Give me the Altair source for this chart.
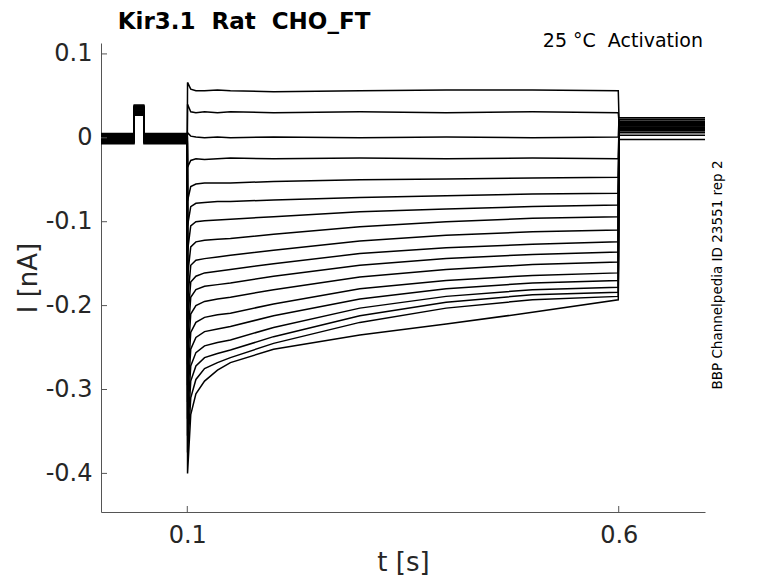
import altair as alt
import pandas as pd

# ---------------- data ----------------
TITLE = "Kir3.1 \u00a0Rat \u00a0CHO_FT"
CONDITION = "25 \u00b0C \u00a0Activation"
SOURCE = "BBP Channelpedia ID 23551 rep 2"

X_TICKS = [0.1, 0.6]
Y_TICKS = [0.1, 0.0, -0.1, -0.2, -0.3, -0.4]
X_DOMAIN = [0.0, 0.7]
Y_DOMAIN = [-0.446, 0.113]

# protocol times (s)
T_START = 0.0
PULSE_ON = 0.0383
PULSE_OFF = 0.0496
STEP_ON = 0.1
STEP_OFF = 0.6
T_END = 0.7
PULSE_AMP = 0.034

# sample times during the step
STEP_TIMES = [0.1003, 0.104, 0.11, 0.12, 0.135, 0.15, 0.2, 0.3, 0.4, 0.5, 0.5995]

# current (nA) of each sweep at STEP_TIMES
STEP_VALUES = [
    [0.066, 0.058, 0.056, 0.056, 0.057, 0.056, 0.055, 0.056, 0.057, 0.057, 0.056],
    [0.040, 0.031, 0.030, 0.031, 0.030, 0.031, 0.030, 0.031, 0.030, 0.031, 0.030],
    [0.006, 0.002, 0.001, 0.000, 0.001, 0.000, 0.001, 0.000, 0.001, 0.000, 0.001],
    [-0.035, -0.027, -0.025, -0.026, -0.025, -0.024, -0.025, -0.024, -0.025, -0.024, -0.025],
    [-0.075, -0.058, -0.055, -0.054, -0.054, -0.054, -0.052, -0.050, -0.049, -0.048, -0.047],
    [-0.105, -0.082, -0.078, -0.077, -0.076, -0.076, -0.074, -0.071, -0.069, -0.067, -0.066],
    [-0.135, -0.105, -0.100, -0.099, -0.098, -0.097, -0.094, -0.088, -0.085, -0.082, -0.080],
    [-0.165, -0.130, -0.124, -0.122, -0.121, -0.120, -0.115, -0.106, -0.100, -0.096, -0.094],
    [-0.195, -0.152, -0.146, -0.144, -0.142, -0.140, -0.134, -0.123, -0.116, -0.112, -0.110],
    [-0.220, -0.172, -0.165, -0.161, -0.159, -0.157, -0.150, -0.138, -0.131, -0.127, -0.124],
    [-0.245, -0.190, -0.181, -0.177, -0.175, -0.173, -0.165, -0.152, -0.144, -0.139, -0.136],
    [-0.270, -0.210, -0.200, -0.195, -0.192, -0.190, -0.181, -0.166, -0.157, -0.151, -0.148],
    [-0.295, -0.232, -0.220, -0.214, -0.211, -0.209, -0.198, -0.180, -0.170, -0.164, -0.161],
    [-0.315, -0.252, -0.238, -0.231, -0.228, -0.225, -0.212, -0.192, -0.180, -0.173, -0.170],
    [-0.335, -0.272, -0.256, -0.248, -0.244, -0.241, -0.226, -0.203, -0.189, -0.181, -0.178],
    [-0.355, -0.290, -0.272, -0.262, -0.257, -0.253, -0.237, -0.212, -0.196, -0.187, -0.184],
    [-0.375, -0.310, -0.288, -0.275, -0.268, -0.262, -0.245, -0.220, -0.203, -0.193, -0.189],
    [-0.400, -0.330, -0.305, -0.290, -0.277, -0.268, -0.252, -0.235, -0.222, -0.208, -0.193],
]

# holding current before the step and tail current after it (nA)
BASELINE = [0.004, -0.002, 0.003, -0.006, 0.001, -0.004, 0.005, -0.001, 0.002,
            -0.007, 0.000, -0.003, 0.004, -0.005, 0.002, -0.002, 0.001, -0.004]
TAIL = [0.024, 0.019, 0.022, 0.013, 0.017, 0.009, 0.020, 0.011, 0.015,
        0.006, 0.018, 0.012, 0.003, 0.016, 0.008, 0.014, -0.002, 0.010]

# ---------------- build table ----------------
rows = []
for i, vals in enumerate(STEP_VALUES):
    b = BASELINE[i]
    pts = [
        (T_START, b), (PULSE_ON, b), (PULSE_ON + 0.0002, b + PULSE_AMP),
        (PULSE_OFF, b + PULSE_AMP), (PULSE_OFF + 0.0002, b), (STEP_ON, b),
    ]
    pts += list(zip(STEP_TIMES, vals))
    pts += [(STEP_OFF + 0.0003, TAIL[i]), (T_END, TAIL[i])]
    for k, (t, v) in enumerate(pts):
        rows.append({"trace": i + 1, "k": k, "t": t, "I": v})
df = pd.DataFrame(rows)

FONT = "DejaVu Sans"
TXT = "#262626"

x_scale = alt.Scale(domain=X_DOMAIN, nice=False, zero=False)
y_scale = alt.Scale(domain=Y_DOMAIN, nice=False, zero=False)

traces = alt.Chart(df).mark_line(color="black", strokeWidth=1.5).encode(
    x=alt.X("t:Q", scale=x_scale, axis=alt.Axis(
        values=X_TICKS, labelExpr="toString(datum.value)", title="t [s]",
        tickSize=0, labelPadding=11, labelFontSize=24, labelColor=TXT, labelFont=FONT,
        titleFontSize=26, titleFontWeight="normal", titleColor=TXT, titleFont=FONT,
        titleX=302, titleY=58, titleBaseline="alphabetic", titleAlign="center",
        domainColor="#555555", grid=False)),
    y=alt.Y("I:Q", scale=y_scale, axis=alt.Axis(
        values=Y_TICKS, labelExpr="toString(datum.value)", title="I [nA]",
        tickSize=0, labelPadding=9, labelFontSize=24, labelColor=TXT, labelFont=FONT,
        titleFontSize=26, titleFontWeight="normal", titleColor=TXT, titleFont=FONT,
        titleAngle=270, titleX=-73, titleY=234.5, titleBaseline="middle", titleAlign="center",
        domainColor="#555555", grid=False)),
    detail="trace:N",
    order="k:Q",
)

yticks = alt.Chart(pd.DataFrame({"I": Y_TICKS})).mark_rule(color="#555555").encode(
    y=alt.Y("I:Q", scale=y_scale), x=alt.value(0), x2=alt.value(6))
xticks = alt.Chart(pd.DataFrame({"t": X_TICKS})).mark_rule(color="#555555").encode(
    x=alt.X("t:Q", scale=x_scale), y=alt.value(469), y2=alt.value(463))

title = alt.Chart(pd.DataFrame({"s": [TITLE]})).mark_text(
    font=FONT, fontSize=23, fontWeight="bold", color="black", align="center", baseline="middle"
).encode(text="s:N", x=alt.value(143), y=alt.value(-21))

cond = alt.Chart(pd.DataFrame({"s": [CONDITION]})).mark_text(
    font=FONT, fontSize=19, color="black", align="right", baseline="middle"
).encode(text="s:N", x=alt.value(602), y=alt.value(-2))

src = alt.Chart(pd.DataFrame({"s": [SOURCE]})).mark_text(
    font=FONT, fontSize=13.5, color="black", align="center", baseline="middle", angle=270
).encode(text="s:N", x=alt.value(617), y=alt.value(232))

chart = alt.layer(traces, yticks, xticks, title, cond, src).properties(
    width=604, height=469,
    autosize=alt.AutoSizeParams(type="none"),
    padding={"left": 93, "top": 35, "right": 65, "bottom": 63},
).configure_view(stroke=None)

chart.save("out.html", embed_options={"renderer": "svg", "actions": False})
